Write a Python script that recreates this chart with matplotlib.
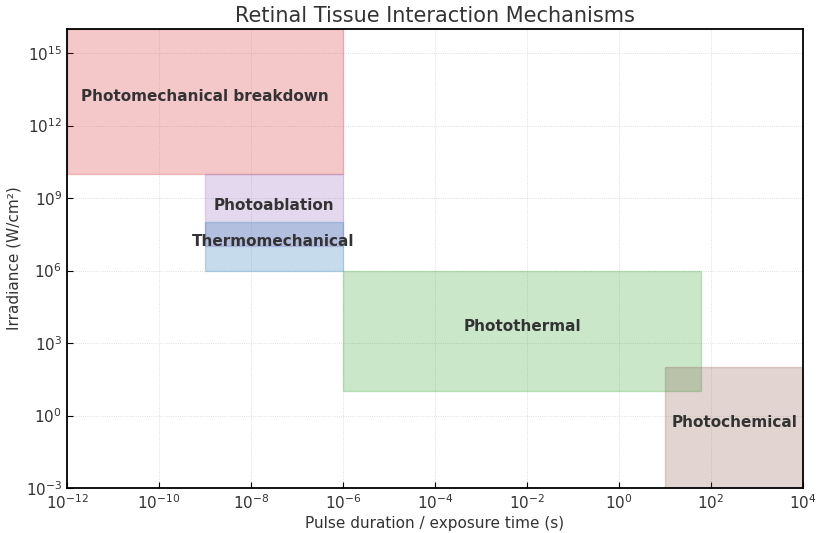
import numpy as np
import matplotlib
matplotlib.use('Agg')
import matplotlib.pyplot as plt
from matplotlib.patches import Rectangle

# mechanism regions: name, (t_min, t_max) [s], (I_min, I_max) [W/cm^2]
names = ['Photomechanical breakdown', 'Photoablation', 'Thermomechanical',
         'Photothermal', 'Photochemical']
t_min = [1e-12, 1e-9, 1e-9, 1e-6, 10]
t_max = [1e-6, 1e-6, 1e-6, 60, 1e4]
i_min = [1e10, 1e7, 1e6, 10, 1e-3]
i_max = [1e16, 1e10, 1e8, 1e6, 1e2]
colors = ['tab:red', 'tab:purple', 'tab:blue', 'tab:green', 'tab:brown']
label_x = [1e-9, 3.1e-8, 3.1e-8, 8e-3, 3.2e2]
label_y = [1.6e13, 5e8, 1.6e7, 5e3, 0.5]

text_col = '#333333'

fig = plt.figure(figsize=(8.24, 5.33), dpi=100)
ax = fig.add_axes([67/824, 1 - 488/533, 736/824, 459/533])

for k in range(len(names)):
    r = Rectangle((t_min[k], i_min[k]), t_max[k] - t_min[k], i_max[k] - i_min[k],
                  facecolor=colors[k], edgecolor=colors[k], alpha=0.25, lw=1)
    ax.add_patch(r)
    ax.text(label_x[k], label_y[k], names[k], ha='center', va='center',
            fontsize=11, fontweight='bold', color=text_col)

ax.set_xscale('log')
ax.set_yscale('log')
ax.set_xlim(1e-12, 1e4)
ax.set_ylim(1e-3, 1e16)
ax.set_xticks([10.0**p for p in range(-12, 5, 2)])
ax.set_yticks([10.0**p for p in range(-3, 16, 3)])
ax.minorticks_off()
ax.tick_params(axis='both', direction='in', labelsize=11, colors='black',
               labelcolor=text_col, length=4)
ax.grid(True, which='major', ls=':', color='#d5d5d5', lw=0.6)
ax.set_axisbelow(True)
for s in ax.spines.values():
    s.set_linewidth(1.3)

ax.set_xlabel('Pulse duration / exposure time (s)', fontsize=11, color=text_col, labelpad=3)
ax.set_ylabel('Irradiance (W/cm²)', fontsize=11, color=text_col, labelpad=3)
ax.set_title('Retinal Tissue Interaction Mechanisms', fontsize=15, color=text_col, pad=5)

plt.savefig('out.png', dpi=100)
